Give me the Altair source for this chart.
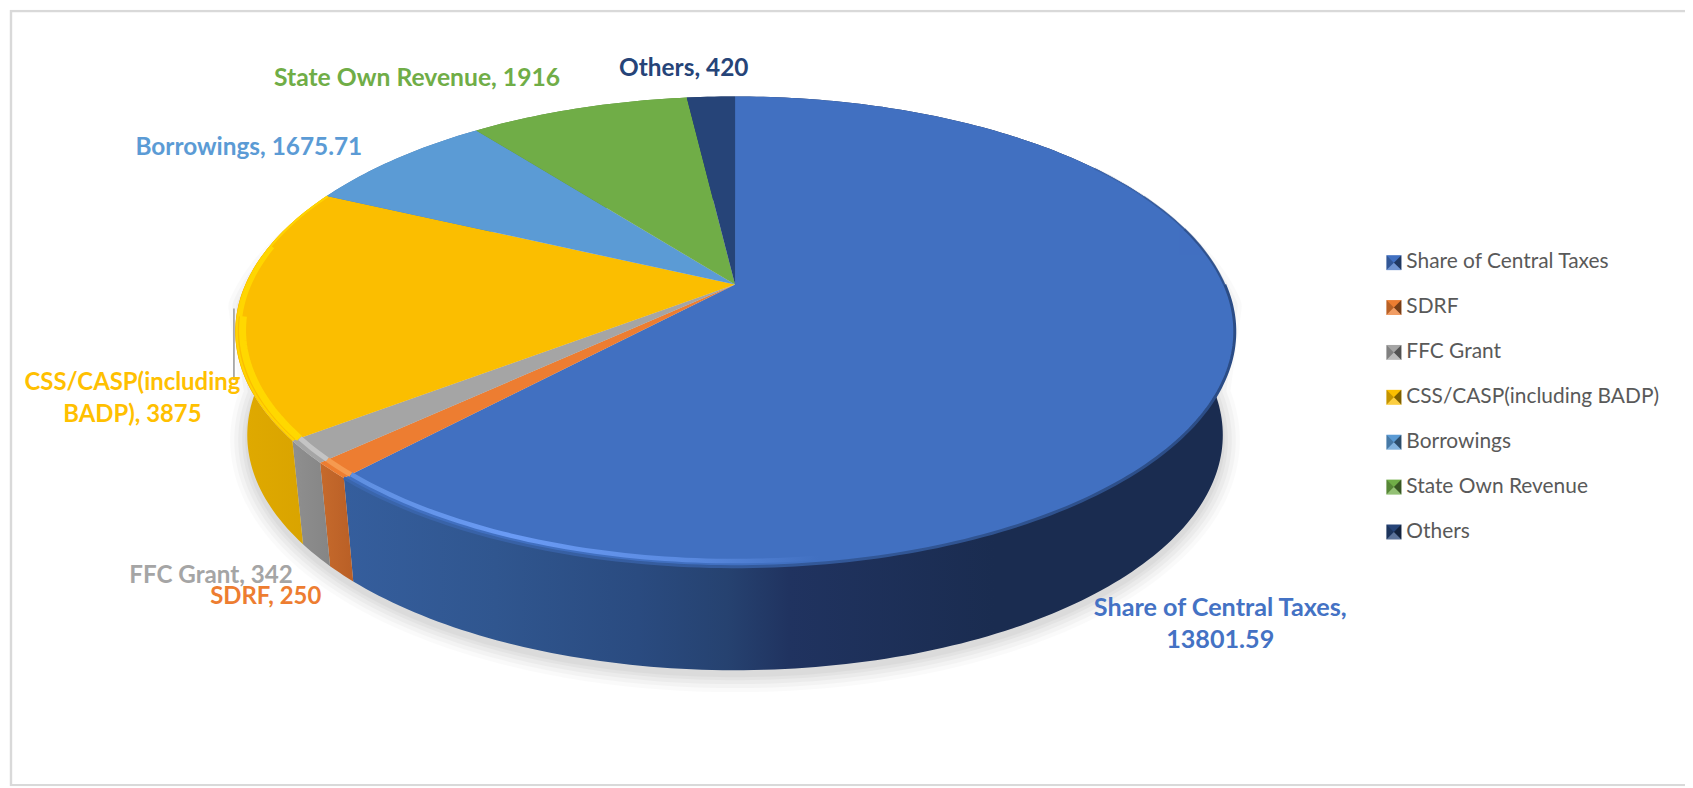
import numpy as np
import altair as alt

# ---- data ----
categories = ["Share of Central Taxes", "SDRF", "FFC Grant", "CSS/CASP(including BADP)",
              "Borrowings", "State Own Revenue", "Others"]
values = [13801.59, 250, 342, 3875, 1675.71, 1916, 420]
value_text = ["13801.59", "250", "342", "3875", "1675.71", "1916", "420"]
top_colors = ["#4170c1", "#ed7d31", "#a5a5a5", "#fbbe00", "#5b9bd5", "#70ad47", "#264478"]
label_colors = ["#4472c4", "#ed7d31", "#a5a5a5", "#ffc000", "#5b9bd5", "#70ad47", "#264478"]
label_breaks = ["Share of Central Taxes,\n", None, None, "CSS/CASP(including\nBADP), ", None, None, None]

# ---- layout of the tilted pie (chart pixels) ----
W, H = 1685, 780
APEX_X, APEX_Y = 730.5, 276.0
A, B, K = 492.0, 226.8, 0.2
DEPTH = 104.0
BOTTOM_SX = 0.976
label_anchor = [(1218, 601), (259, 590), (204, 569), (125, 375),
                (242, 139), (411, 70), (679, 59)]
label_size = [25.3, 24, 24.3, 24, 24.5, 24.8, 24.5]
LEG_X, LEG_Y, LEG_STEP, LEG_HALF = 1392.5, 254.0, 45.1, 7.5


def project(theta_deg, r=1.0, dy=0.0, sx=1.0):
    t = np.radians(theta_deg)
    u, v = r * np.sin(t), r * np.cos(t)
    w = 1 + K * v
    return APEX_X + sx * A * u / w, APEX_Y - B * v / w + dy


def arc(t0, t1, r=1.0, dy=0.0, sx=1.0):
    n = max(2, int(abs(t1 - t0)) + 2)
    ts = np.linspace(t0, t1, n)
    x, y = project(ts, r, dy, sx)
    return [[float(a), float(b)] for a, b in zip(x, y)]


def poly(coords, name=""):
    return {"type": "Feature", "properties": {"name": name},
            "geometry": {"type": "Polygon", "coordinates": [coords + [coords[0]]]}}


def line(coords, name=""):
    return {"type": "Feature", "properties": {"name": name},
            "geometry": {"type": "LineString", "coordinates": coords}}


def grad(stops):
    return {"gradient": "linear", "x1": 0, "y1": 0, "x2": 1, "y2": 0,
            "stops": [{"offset": o, "color": c} for o, c in stops]}


proj = dict(type="identity", scale=1, translate=[0, 0])

total = sum(values)
edges = np.concatenate([[0.0], np.cumsum(values) / total * 360.0])

layers = []

# frame
frame = [[3, 1.2], [W + 6, 1.2], [W + 6, H - 1], [3, H - 1]]
layers.append(alt.Chart(alt.Data(values=[poly(frame)]))
              .mark_geoshape(filled=False, stroke="#d9d9d9", strokeWidth=2.4).project(**proj))

# soft shadow below the body
silhouette = arc(-90, 90, 1.0, 22) + arc(90, 270, 1.0, DEPTH + 5, BOTTOM_SX)
for sw, op in [(34, 0.04), (26, 0.055), (18, 0.07), (10, 0.08), (4, 0.08)]:
    layers.append(alt.Chart(alt.Data(values=[poly(silhouette)]))
                  .mark_geoshape(fill="#8c8c8c", stroke="#8c8c8c", strokeWidth=sw,
                                 strokeJoin="round", opacity=op).project(**proj))

# small grey leader stub left of the pie
layers.append(alt.Chart(alt.Data(values=[line([[227, 300], [227, 372]])]))
              .mark_geoshape(filled=False, stroke="#a6a6a6", strokeWidth=1.8).project(**proj))

# side walls
wall_fill = [
    grad([(0, "#355e9d"), (0.17, "#30568f"), (0.33, "#2a4b80"), (0.43, "#264270"),
          (0.5, "#203360"), (0.73, "#1a2c50"), (1, "#1a2c50")]),
    grad([(0, "#c66a2c"), (1, "#b95f26")]),
    grad([(0, "#8f8f8f"), (1, "#858585")]),
    grad([(0, "#e0aa00"), (1, "#d6a100")]),
    "#4a7fb0", "#5c8e3a", "#1f3862",
]
for i in range(len(values)):
    t0, t1 = edges[i], edges[i + 1]
    wall = arc(t0, t1) + arc(t1, t0, 1.0, DEPTH, BOTTOM_SX)
    layers.append(alt.Chart(alt.Data(values=[poly(wall, categories[i])]))
                  .mark_geoshape(fill=wall_fill[i], strokeWidth=0).project(**proj))

# top faces (carry the legend labels)
tops = [poly([[APEX_X, APEX_Y]] + arc(edges[i], edges[i + 1]), categories[i]) for i in range(len(values))]
layers.append(
    alt.Chart(alt.Data(values=tops)).mark_geoshape(strokeWidth=0).encode(
        color=alt.Color("properties.name:N",
                        scale=alt.Scale(domain=categories, range=top_colors),
                        legend=alt.Legend(title=None, orient="none", legendX=1382, legendY=243,
                                          symbolType="square", symbolSize=225, symbolStrokeWidth=0,
                                          symbolOpacity=0,
                                          labelFont="Lato", labelFontSize=21.0, labelColor="#595959",
                                          labelLimit=320, rowPadding=23.2, labelOffset=2))
    ).project(**proj))

# bevel highlight on the rim: (stroke, from angle, to angle, radius, width, opacity)
rims = [
    (grad([(0, "#3a66ad"), (0.5, "#33599a"), (1, "#2b4c85")]), edges[1], 90, 1.0, 3, 1),
    ("#2b4c85", 90, 75, 0.999, 2.4, 0.8),
    ("#2b4c85", 75, 65, 0.999, 2, 0.5),
    ("#2b4c85", 65, 55, 0.999, 2, 0.25),
    (grad([(0, "#5f8fe0"), (0.35, "#6a9bf5"), (0.72, "#5a8ae0"), (1, "#4170c1")]), edges[1], 172, 0.984, 4.5, 1),
    ("#f59a50", edges[2], edges[1], 0.985, 5, 1),
    ("#c4c4c4", edges[3], edges[2], 0.985, 5, 1),
    ("#ffd400", edges[4], edges[3], 0.997, 2, 1),
    ("#ffd600", 280, 262, 0.992, 4, 1),
    ("#ffd800", 262, edges[3], 0.986, 7, 1),
]
for stroke, t0, t1, r, sw, op in rims:
    layers.append(alt.Chart(alt.Data(values=[line(arc(t0, t1, r))]))
                  .mark_geoshape(filled=False, stroke=stroke, strokeWidth=sw, opacity=op).project(**proj))

# legend swatches with their pyramid bevel
swatch, side_left, side_right, side_bottom = [], [], [], []
for i in range(len(categories)):
    cx, cy = LEG_X, LEG_Y + i * LEG_STEP
    h = LEG_HALF
    swatch.append(poly([[cx - h, cy - h], [cx + h, cy - h], [cx + h, cy + h], [cx - h, cy + h]], categories[i]))
    side_left.append(poly([[cx - h, cy - h], [cx, cy], [cx - h, cy + h]]))
    side_right.append(poly([[cx + h, cy - h], [cx, cy], [cx + h, cy + h]]))
    side_bottom.append(poly([[cx - h, cy + h], [cx, cy], [cx + h, cy + h]]))
layers.append(alt.Chart(alt.Data(values=swatch)).mark_geoshape(strokeWidth=0).encode(
    color=alt.Color("properties.name:N", scale=alt.Scale(domain=categories, range=top_colors), legend=None)
).project(**proj))
for feats, col, op in [(side_left, "#000000", 0.22), (side_right, "#000000", 0.5), (side_bottom, "#ffffff", 0.25)]:
    layers.append(alt.Chart(alt.Data(values=feats))
                  .mark_geoshape(fill=col, strokeWidth=0, opacity=op).project(**proj))

# data labels
rows = []
for i, c in enumerate(categories):
    text = (label_breaks[i] or f"{c}, ") + value_text[i]
    rows.append({"label": text, "lon": label_anchor[i][0], "lat": label_anchor[i][1],
                 "col": label_colors[i], "fs": label_size[i]})
layers.append(
    alt.Chart(alt.Data(values=rows)).mark_text(
        font="Lato", fontWeight="bold", lineBreak="\n", lineHeight=32,
        align="center", baseline="middle").encode(
        longitude="lon:Q", latitude="lat:Q", text="label:N",
        size=alt.Size("fs:Q", scale=None, legend=None),
        color=alt.Color("col:N", scale=None)).project(**proj))

chart = alt.layer(*layers).properties(
    width=W, height=H, padding=0, autosize=alt.AutoSizeParams(type="none"),
    background="white"
).configure_view(stroke=None).resolve_scale(color="independent")

chart.save("out.html", embed_options={"renderer": "svg", "actions": False})
